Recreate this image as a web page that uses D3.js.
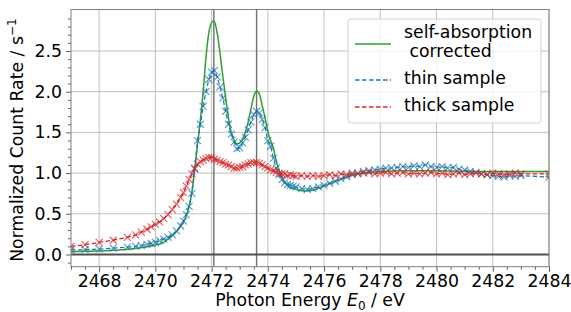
<!DOCTYPE html>
<html>
<head>
<meta charset="utf-8">
<script src="https://cdn.jsdelivr.net/npm/d3@7"></script>
<style>
  body { margin: 0; background: #fff; }
  text { font-family: "DejaVu Sans", sans-serif; fill: #000; }
</style>
</head>
<body>
<svg width="571" height="312"></svg>
<script>
// measured samples (thin / thick share one energy grid)
const energy = [2467.0, 2467.5, 2468.0, 2468.5, 2469.0, 2469.3, 2469.5, 2469.7, 2469.85, 2470.0,
  2470.15, 2470.3, 2470.45, 2470.6, 2470.75, 2470.9, 2471.0, 2471.1, 2471.2, 2471.3,
  2471.4, 2471.5, 2471.6, 2471.7, 2471.8, 2471.9, 2472.0, 2472.1, 2472.2, 2472.3,
  2472.4, 2472.5, 2472.6, 2472.7, 2472.8, 2472.9, 2473.0, 2473.1, 2473.2, 2473.3,
  2473.4, 2473.5, 2473.6, 2473.7, 2473.8, 2473.9, 2474.0, 2474.1, 2474.2, 2474.3,
  2474.4, 2474.5, 2474.6, 2474.7, 2474.8, 2474.9, 2475.0, 2475.2, 2475.4, 2475.6,
  2475.8, 2476.0, 2476.2, 2476.4, 2476.6, 2476.8, 2477.0, 2477.2, 2477.4, 2477.6,
  2477.8, 2478.0, 2478.2, 2478.4, 2478.6, 2478.8, 2479.0, 2479.2, 2479.4, 2479.6,
  2479.8, 2480.0, 2480.2, 2480.4, 2480.6, 2480.8, 2481.0, 2481.2, 2481.4, 2481.6,
  2481.8, 2482.0, 2482.2, 2482.4, 2482.6, 2482.8, 2483.0, 2484.0];

const thin = [0.055, 0.06, 0.065, 0.077, 0.09, 0.10, 0.11, 0.125, 0.135, 0.15,
  0.17, 0.19, 0.21, 0.24, 0.29, 0.35, 0.41, 0.49, 0.59, 0.75,
  1.05, 1.40, 1.60, 1.82, 2.00, 2.15, 2.24, 2.26, 2.18, 2.06,
  1.92, 1.76, 1.60, 1.48, 1.38, 1.30, 1.31, 1.37, 1.44, 1.53,
  1.63, 1.72, 1.76, 1.74, 1.66, 1.56, 1.40, 1.33, 1.18, 1.06,
  0.98, 0.92, 0.88, 0.86, 0.85, 0.84, 0.83, 0.81, 0.80, 0.81,
  0.83, 0.85, 0.875, 0.90, 0.93, 0.955, 0.98, 1.00, 1.02, 1.03,
  1.04, 1.05, 1.06, 1.06, 1.07, 1.08, 1.07, 1.09, 1.08, 1.10,
  1.08, 1.07, 1.08, 1.06, 1.07, 1.05, 1.04, 1.02, 1.01, 0.99,
  0.98, 0.97, 0.96, 0.95, 0.97, 0.96, 0.97, 0.95];

const thick = [0.10, 0.12, 0.15, 0.175, 0.21, 0.24, 0.275, 0.31, 0.34, 0.37,
  0.40, 0.44, 0.49, 0.55, 0.62, 0.70, 0.76, 0.84, 0.92, 0.99,
  1.06, 1.11, 1.14, 1.16, 1.18, 1.19, 1.19, 1.17, 1.16, 1.14,
  1.13, 1.11, 1.10, 1.08, 1.06, 1.06, 1.07, 1.08, 1.10, 1.11,
  1.13, 1.13, 1.13, 1.12, 1.10, 1.08, 1.06, 1.04, 1.03, 1.01,
  1.00, 0.99, 0.99, 0.97, 0.98, 0.97, 0.96, 0.97, 0.96, 0.97,
  0.96, 0.97, 0.98, 0.97, 0.99, 0.98, 1.00, 0.99, 1.00, 1.01,
  0.99, 1.00, 1.01, 0.99, 1.00, 1.01, 0.99, 1.00, 0.99, 1.00,
  1.01, 0.99, 1.00, 0.98, 0.99, 1.00, 0.98, 0.99, 1.00, 0.99,
  0.98, 1.00, 0.99, 0.98, 0.99, 1.00, 0.99, 0.99];

// self-absorption corrected curve
const corrEnergy = [2467.0, 2467.5, 2468.0, 2468.5, 2469.0, 2469.5, 2470.0, 2470.3, 2470.5, 2470.7,
  2470.8, 2470.9, 2471.0, 2471.1, 2471.2, 2471.3, 2471.4, 2471.5, 2471.6, 2471.7,
  2471.8, 2471.9, 2472.0, 2472.05, 2472.1, 2472.2, 2472.3, 2472.4, 2472.5, 2472.6,
  2472.7, 2472.8, 2472.9, 2473.0, 2473.1, 2473.2, 2473.3, 2473.4, 2473.5, 2473.6,
  2473.7, 2473.8, 2473.9, 2474.0, 2474.1, 2474.2, 2474.3, 2474.4, 2474.5, 2474.6,
  2474.7, 2474.8, 2474.9, 2475.0, 2475.3, 2475.6, 2476.0, 2476.4, 2476.8, 2477.2,
  2477.6, 2478.0, 2479.0, 2480.0, 2481.0, 2482.0, 2483.0, 2484.0];

const corrected = [0.035, 0.039, 0.043, 0.052, 0.064, 0.084, 0.117, 0.15, 0.20, 0.26,
  0.30, 0.35, 0.40, 0.48, 0.59, 0.77, 1.05, 1.35, 1.65, 2.00,
  2.42, 2.72, 2.85, 2.87, 2.86, 2.72, 2.47, 2.19, 1.92, 1.68,
  1.50, 1.41, 1.36, 1.37, 1.42, 1.50, 1.63, 1.79, 1.94, 2.01,
  1.97, 1.83, 1.68, 1.51, 1.40, 1.30, 1.15, 1.03, 0.95, 0.89,
  0.85, 0.82, 0.81, 0.80, 0.78, 0.79, 0.84, 0.90, 0.95, 0.99,
  1.01, 1.02, 1.03, 1.03, 1.02, 1.02, 1.02, 1.02];

const xTicks = [2468, 2470, 2472, 2474, 2476, 2478, 2480, 2482, 2484];
const yTicks = [0.0, 0.5, 1.0, 1.5, 2.0, 2.5];
const peakLines = [2472.08, 2473.6];
const seriesNames = ["self-absorption\n corrected", "thin sample", "thick sample"];
const colors = ["#2ca02c", "#1f77b4", "#d62728"];

const svg = d3.select("svg");
const plotL = 71, plotR = 549, plotT = 9.5, plotB = 266.7;
const fs = 17.3;

const x = d3.scaleLinear().domain([2467, 2484]).range([plotL, plotR]);
const y = d3.scaleLinear().domain([-0.15, 3.01]).range([plotB, plotT]);

svg.append("defs").append("clipPath").attr("id", "plot")
  .append("rect").attr("x", plotL).attr("y", plotT)
  .attr("width", plotR - plotL).attr("height", plotB - plotT);

// grid
const grid = svg.append("g").attr("stroke", "#b0b0b0").attr("stroke-width", 0.8);
grid.selectAll(".gx").data(xTicks).join("line")
  .attr("x1", d => x(d)).attr("x2", d => x(d)).attr("y1", plotT).attr("y2", plotB);
grid.selectAll(".gy").data(yTicks).join("line")
  .attr("y1", d => y(d)).attr("y2", d => y(d)).attr("x1", plotL).attr("x2", plotR);

const plot = svg.append("g").attr("clip-path", "url(#plot)");

plot.selectAll(".peak").data(peakLines).join("line")
  .attr("x1", d => x(d)).attr("x2", d => x(d)).attr("y1", plotT).attr("y2", plotB)
  .attr("stroke", "#707070").attr("stroke-width", 1.4);

plot.append("line")
  .attr("x1", plotL).attr("x2", plotR).attr("y1", y(0)).attr("y2", y(0))
  .attr("stroke", "#505050").attr("stroke-width", 2);

const smooth = d3.line().x(d => x(d[0])).y(d => y(d[1])).curve(d3.curveMonotoneX);

plot.append("path")
  .datum(d3.zip(corrEnergy, corrected))
  .attr("d", smooth)
  .attr("fill", "none").attr("stroke", colors[0]).attr("stroke-width", 1.5);

const lin = d3.line().x(d => x(d[0])).y(d => y(d[1]));
[thin, thick].forEach((vals, i) => {
  const pts = d3.zip(energy, vals);
  const c = colors[i + 1];
  plot.append("path").datum(pts).attr("d", lin)
    .attr("fill", "none").attr("stroke", c).attr("stroke-width", 1.3)
    .attr("stroke-dasharray", "4.5,2.5");
  plot.append("g").selectAll("path").data(pts).join("path")
    .attr("d", d => {
      const px = x(d[0]), py = y(d[1]), s = 3.5;
      return `M${px - s},${py - s}L${px + s},${py + s}M${px - s},${py + s}L${px + s},${py - s}`;
    })
    .attr("stroke", c).attr("stroke-width", 1.1).attr("stroke-opacity", 0.75);
});

// axes
svg.append("g").attr("transform", `translate(0,${plotB})`)
  .call(d3.axisBottom(x).tickValues(xTicks).tickFormat(d3.format("d")).tickSize(5).tickPadding(3));
svg.append("g").attr("transform", `translate(0,${plotB})`)
  .call(d3.axisBottom(x).tickValues(d3.range(2467, 2484.01, 0.5).filter(v => v % 2 !== 0)).tickFormat("").tickSize(3));
svg.append("g").attr("transform", `translate(${plotL},0)`)
  .call(d3.axisLeft(y).tickValues(yTicks).tickFormat(d3.format(".1f")).tickSize(5).tickPadding(4));
svg.append("g").attr("transform", `translate(${plotL},0)`)
  .call(d3.axisLeft(y).tickValues(d3.range(-1, 30).map(v => v / 10).filter(v => Math.round(v * 10) % 5 !== 0)).tickFormat("").tickSize(3));

svg.selectAll(".domain").remove();
svg.selectAll(".tick line").attr("stroke", "#333").attr("stroke-width", 0.8);
svg.selectAll(".tick text").attr("font-size", fs).attr("font-family", "DejaVu Sans").attr("fill", "#000");

// frame
svg.append("rect").attr("x", plotL).attr("y", plotT)
  .attr("width", plotR - plotL).attr("height", plotB - plotT)
  .attr("fill", "none").attr("stroke", "#808080").attr("stroke-width", 1);

// axis labels
const xl = svg.append("text").attr("x", (plotL + plotR) / 2).attr("y", 306)
  .attr("text-anchor", "middle").attr("font-size", fs);
xl.append("tspan").text("Photon Energy ");
xl.append("tspan").attr("font-style", "italic").text("E");
xl.append("tspan").attr("font-size", 12).attr("dy", 4).text("0");
xl.append("tspan").attr("dy", -4).text(" / eV");

const yl = svg.append("text").attr("transform", `translate(23,${(plotT + plotB) / 2 + 2}) rotate(-90)`)
  .attr("text-anchor", "middle").attr("font-size", fs);
yl.append("tspan").text("Normalized Count Rate / s");
yl.append("tspan").attr("font-size", 12).attr("dy", -7).text("\u22121");

// legend
const lg = svg.append("g");
lg.append("rect").attr("x", 348).attr("y", 19).attr("width", 193).attr("height", 104)
  .attr("rx", 3).attr("fill", "#fff").attr("fill-opacity", 0.8)
  .attr("stroke", "#d0d0d0").attr("stroke-width", 1);
const handleY = [44, 80, 107];
const textY = [[38, 57], [84], [111]];
seriesNames.forEach((name, i) => {
  lg.append("line").attr("x1", 355).attr("x2", 391).attr("y1", handleY[i]).attr("y2", handleY[i])
    .attr("stroke", colors[i]).attr("stroke-width", 1.5)
    .attr("stroke-dasharray", i === 0 ? null : "4.5,2.5");
  name.split("\n").forEach((part, j) => {
    lg.append("text").attr("x", 404).attr("y", textY[i][j]).attr("font-size", fs)
      .style("white-space", "pre").text(part);
  });
});
</script>
</body>
</html>
